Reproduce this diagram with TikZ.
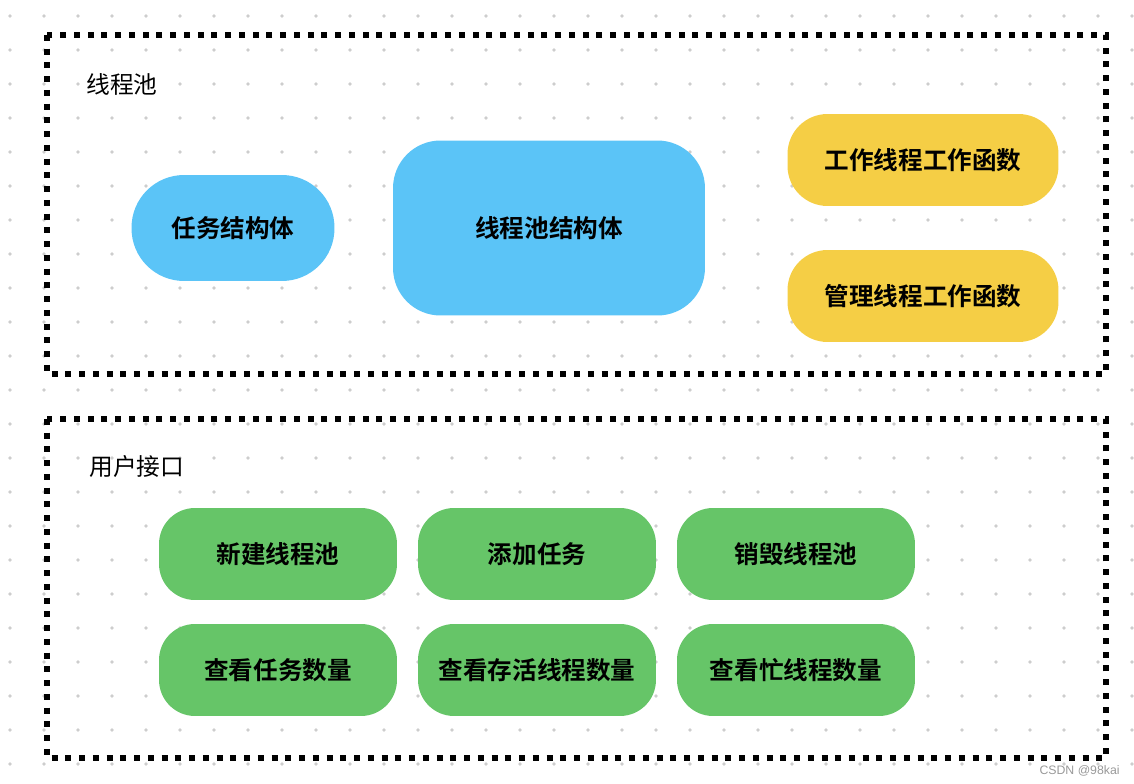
\documentclass[tikz,border=0pt]{standalone}
\usepackage{fontspec}
\usepackage{tikz}
\setmainfont{Liberation Sans}
\newfontfamily\cjk{Noto Sans CJK SC}
\newfontfamily\cjkbold{Noto Sans CJK SC Bold}
\definecolor{poolblue}{RGB}{91,196,247}
\definecolor{workyellow}{RGB}{245,206,69}
\definecolor{apigreen}{RGB}{102,197,104}
\definecolor{griddot}{RGB}{205,205,205}

\begin{document}
\begin{tikzpicture}[x=0.02cm,y=-0.02cm,
  frame/.style={draw=black,line width=0.12cm,dash pattern=on 0.12cm off 0.155cm},
  part/.style={inner sep=0pt,align=center,font=\cjkbold\fontsize{14pt}{16pt}\selectfont},
  tag/.style={anchor=west,inner sep=0pt,font=\cjk\fontsize{13.5pt}{16pt}\selectfont}]
\useasboundingbox (0,0) rectangle (1134,784);
% dot grid
\foreach \i in {0,...,33}
  \foreach \j in {0,...,22}
    \fill[griddot] (10+34*\i,16+34*\j) circle (0.038cm);
% frames
\draw[frame] (47,35) rectangle (1106,374);
\draw[frame] (47,419) rectangle (1106,758);
\node[tag] (pool) at (86,84) {线程池};
\node[tag] (api) at (89,466) {用户接口};
% pool parts
\node[part,fill=poolblue,rounded corners=1.05cm,minimum width=4.06cm,minimum height=2.12cm] (task) at (233,228) {任务结构体};
\node[part,fill=poolblue,rounded corners=0.95cm,minimum width=6.24cm,minimum height=3.5cm] (tpool) at (549,228) {线程池结构体};
\node[part,fill=workyellow,rounded corners=0.8cm,minimum width=5.42cm,minimum height=1.84cm] (worker) at (923,160) {工作线程工作函数};
\node[part,fill=workyellow,rounded corners=0.8cm,minimum width=5.42cm,minimum height=1.84cm] (manager) at (923,296) {管理线程工作函数};
% user api
\node[part,fill=apigreen,rounded corners=0.72cm,minimum width=4.76cm,minimum height=1.84cm] (create) at (278,554) {新建线程池};
\node[part,fill=apigreen,rounded corners=0.72cm,minimum width=4.76cm,minimum height=1.84cm] (add) at (537,554) {添加任务};
\node[part,fill=apigreen,rounded corners=0.72cm,minimum width=4.76cm,minimum height=1.84cm] (destroy) at (796,554) {销毁线程池};
\node[part,fill=apigreen,rounded corners=0.72cm,minimum width=4.76cm,minimum height=1.84cm] (tasknum) at (278,670) {查看任务数量};
\node[part,fill=apigreen,rounded corners=0.72cm,minimum width=4.76cm,minimum height=1.84cm] (alivenum) at (537,670) {查看存活线程数量};
\node[part,fill=apigreen,rounded corners=0.72cm,minimum width=4.76cm,minimum height=1.84cm] (busynum) at (796,670) {查看忙线程数量};
\node[anchor=east,inner sep=0pt,text=gray!80,font=\fontsize{7pt}{8pt}\selectfont] (mark) at (1120,771) {CSDN @98kai};
\end{tikzpicture}
\end{document}
